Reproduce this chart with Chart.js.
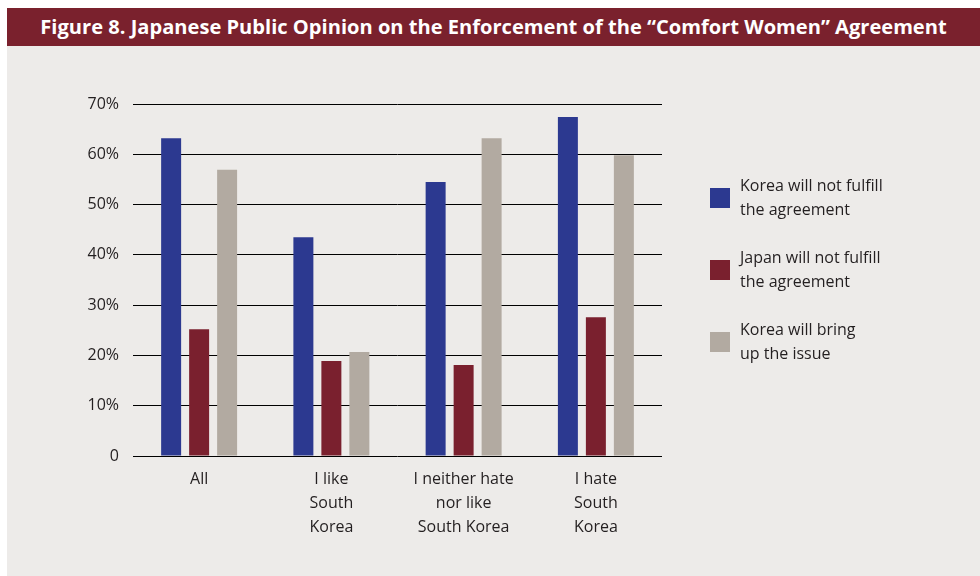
<!DOCTYPE html>
<html>
<head>
<meta charset="utf-8">
<script src="https://cdn.jsdelivr.net/npm/chart.js@4/dist/chart.umd.min.js"></script>
<style>
  html, body { margin: 0; padding: 0; background: #ffffff; }
  #frame { position: absolute; left: 7px; top: 8px; width: 973px; height: 568px; background: #edebe9; }
  #title { height: 38px; background: #7a212d; color: #ffffff; font-family: "Open Sans", sans-serif; font-weight: 700;
           font-size: 20.1px; line-height: 38px; text-align: center; white-space: nowrap; }
  #wrap { position: relative; width: 973px; height: 530px; }
  canvas { display: block; }
</style>
</head>
<body>
<div id="frame">
  <div id="title">Figure 8. Japanese Public Opinion on the Enforcement of the “Comfort Women” Agreement</div>
  <div id="wrap"><canvas id="chart" width="973" height="530"></canvas></div>
</div>
<script>
// Survey groups (x-axis) and their multi-line labels
const categories = [
  ['All'],
  ['I like', 'South', 'Korea'],
  ['I neither hate', 'nor like', 'South Korea'],
  ['I hate', 'South', 'Korea']
];

// Series names, each split into its two legend lines
const seriesNames = [
  ['Korea will not fulfill', 'the agreement'],
  ['Japan will not fulfill', 'the agreement'],
  ['Korea will bring', 'up the issue']
];

// Share of respondents (%)
const koreaNotFulfill = [63.2, 43.5, 54.5, 67.4];
const japanNotFulfill = [25.2, 18.9, 18.1, 27.6];
const koreaBringUp    = [56.9, 20.7, 63.2, 59.8];

// Y-axis tick labels
const yTickLabels = ['0', '10%', '20%', '30%', '40%', '50%', '60%', '70%'];

const seriesColors = ['#2c3990', '#7a202e', '#b2aaa1'];
const FONT = '"Open Sans", sans-serif';
const TEXT = '#231f20';

// Legend drawn on the right-hand side, box centred on its two lines of text
const sideLegend = {
  id: 'sideLegend',
  afterDraw(chart) {
    const ctx = chart.ctx;
    ctx.save();
    ctx.font = '16px ' + FONT;
    ctx.textBaseline = 'middle';
    ctx.textAlign = 'left';
    chart.data.datasets.forEach((ds, i) => {
      const cy = 152 + i * 72;
      ctx.fillStyle = ds.backgroundColor;
      ctx.fillRect(703, cy - 10, 20, 20);
      ctx.fillStyle = TEXT;
      ds.legendLines.forEach((line, j) => {
        ctx.fillText(line, 733, cy - 11.5 + j * 23.5);
      });
    });
    ctx.restore();
  }
};

const values = [koreaNotFulfill, japanNotFulfill, koreaBringUp];

new Chart(document.getElementById('chart'), {
  type: 'bar',
  data: {
    labels: categories,
    datasets: seriesNames.map((name, i) => ({
      label: name.join(' '),
      legendLines: name,
      data: values[i],
      backgroundColor: seriesColors[i],
      categoryPercentage: 0.635,
      barPercentage: 0.714
    }))
  },
  options: {
    responsive: false,
    animation: false,
    devicePixelRatio: 1,
    layout: { padding: { top: 58, right: 318, left: 0, bottom: 0 } },
    plugins: {
      legend: { display: false },
      tooltip: { enabled: false }
    },
    scales: {
      x: {
        grid: { display: false },
        border: { display: false },
        ticks: {
          color: TEXT,
          font: { family: FONT, size: 16, lineHeight: 1.5 },
          padding: 3,
          maxRotation: 0,
          autoSkip: false
        },
        afterFit(scale) { scale.height = 120; }
      },
      y: {
        min: 0,
        max: 70,
        grid: { color: '#000000', lineWidth: 1, drawTicks: false },
        border: { display: false },
        ticks: {
          stepSize: 10,
          color: TEXT,
          padding: 14,
          font: { family: FONT, size: 16 },
          callback: (v) => yTickLabels[Math.round(v / 10)]
        },
        afterFit(scale) { scale.width = 126; }
      }
    }
  },
  plugins: [sideLegend]
});
</script>
</body>
</html>
